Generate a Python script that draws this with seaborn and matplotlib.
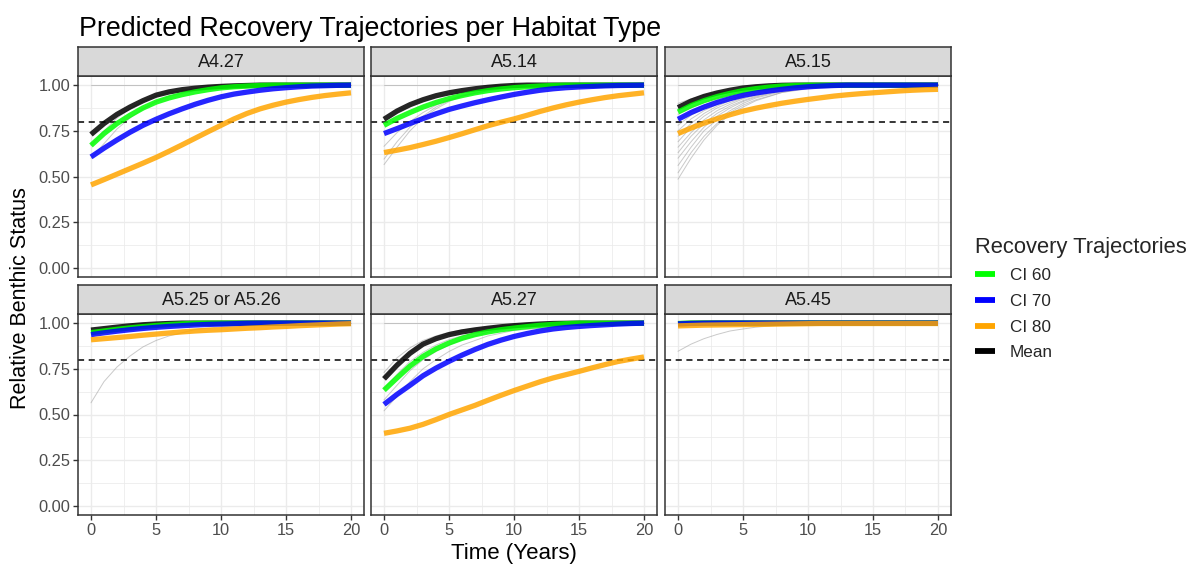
import numpy as np
import pandas as pd
import matplotlib
matplotlib.use("Agg")
import matplotlib.pyplot as plt
from matplotlib.lines import Line2D
from matplotlib.ticker import MultipleLocator
import seaborn as sns

# ---------------------------------------------------------------- data
HABITATS = ["A4.27", "A5.14", "A5.15", "A5.25 or A5.26", "A5.27", "A5.45"]
SERIES = ["CI 60", "CI 70", "CI 80", "Mean"]
DRAW_ORDER = ["Mean", "CI 60", "CI 70", "CI 80"]
COLORS = {"CI 60": "#00FF00", "CI 70": "#0000FF", "CI 80": "#FFA500", "Mean": "#000000"}

YEARS = list(range(0, 21))

A427 = {
    "Mean":  [.730, .790, .840, .880, .915, .945, .963, .975, .983, .989, .993, .996, .998, 1, 1, 1, 1, 1, 1, 1, 1],
    "CI 60": [.670, .735, .790, .835, .875, .907, .930, .948, .963, .975, .985, .991, .995, .998, 1, 1, 1, 1, 1, 1, 1],
    "CI 70": [.607, .655, .700, .742, .780, .813, .843, .870, .895, .917, .936, .951, .962, .972, .980, .986, .991, .995, .997, .999, 1],
    "CI 80": [.454, .483, .513, .543, .573, .604, .638, .673, .709, .745, .780, .815, .845, .870, .890, .907, .921, .933, .943, .951, .958],
}
A514 = {
    "Mean":  [.813, .858, .893, .920, .942, .958, .970, .980, .988, .994, .998, 1, 1, 1, 1, 1, 1, 1, 1, 1, 1],
    "CI 60": [.780, .818, .850, .880, .905, .926, .943, .958, .970, .979, .986, .991, .995, .998, 1, 1, 1, 1, 1, 1, 1],
    "CI 70": [.735, .762, .790, .817, .843, .867, .886, .904, .920, .935, .949, .961, .972, .980, .986, .990, .993, .996, .998, .999, 1],
    "CI 80": [.631, .644, .658, .675, .693, .713, .734, .756, .778, .797, .815, .835, .856, .875, .892, .907, .920, .932, .942, .950, .958],
}
A515 = {
    "Mean":  [.877, .912, .938, .957, .972, .984, .991, .996, .999, 1, 1, 1, 1, 1, 1, 1, 1, 1, 1, 1, 1],
    "CI 60": [.853, .888, .915, .937, .955, .970, .981, .989, .995, .998, 1, 1, 1, 1, 1, 1, 1, 1, 1, 1, 1],
    "CI 70": [.813, .850, .880, .905, .926, .944, .957, .968, .977, .985, .991, .995, .998, 1, 1, 1, 1, 1, 1, 1, 1],
    "CI 80": [.735, .765, .792, .816, .838, .858, .874, .888, .901, .912, .922, .931, .940, .947, .953, .958, .963, .968, .972, .975, .977],
}
A525 = {
    "Mean":  [.962, .970, .978, .985, .991, .995, .998, 1, 1, 1, 1, 1, 1, 1, 1, 1, 1, 1, 1, 1, 1],
    "CI 60": [.948, .957, .966, .974, .981, .987, .992, .996, .999, 1, 1, 1, 1, 1, 1, 1, 1, 1, 1, 1, 1],
    "CI 70": [.937, .947, .956, .964, .971, .977, .982, .986, .990, .993, .995, .997, .999, 1, 1, 1, 1, 1, 1, 1, 1],
    "CI 80": [.909, .915, .921, .927, .934, .940, .946, .952, .957, .961, .964, .968, .972, .975, .979, .982, .986, .989, .992, .995, .997],
}
A527 = {
    "Mean":  [.695, .770, .835, .885, .915, .937, .952, .963, .972, .980, .986, .991, .995, .998, .999, 1, 1, 1, 1, 1, 1],
    "CI 60": [.633, .700, .765, .818, .859, .891, .917, .937, .952, .964, .973, .981, .988, .993, .997, 1, 1, 1, 1, 1, 1],
    "CI 70": [.555, .610, .660, .712, .754, .791, .825, .856, .884, .907, .927, .943, .957, .968, .976, .982, .987, .991, .995, .998, 1],
    "CI 80": [.397, .410, .425, .446, .472, .500, .525, .550, .578, .605, .631, .655, .679, .700, .718, .736, .755, .773, .790, .803, .815],
}
A545 = {
    "Mean":  [.997, .999, 1, 1, 1, 1, 1, 1, 1, 1, 1, 1, 1, 1, 1, 1, 1, 1, 1, 1, 1],
    "CI 60": [.998, 1, 1, 1, 1, 1, 1, 1, 1, 1, 1, 1, 1, 1, 1, 1, 1, 1, 1, 1, 1],
    "CI 70": [.996, .998, .999, 1, 1, 1, 1, 1, 1, 1, 1, 1, 1, 1, 1, 1, 1, 1, 1, 1, 1],
    "CI 80": [.985, .987, .989, .990, .991, .992, .993, .994, .995, .996, .997, .998, .998, .998, .998, .998, .998, .998, .998, .998, .998],
}

# individual site trajectories (thin grey lines)
SITE_YEARS = [0, 1, 2, 3, 4, 5, 6, 8, 10, 15, 20]

SITES_A427 = [
    [1.000, 1.000, 1.000, 1.000, 1.000, 1.000, 1.000, 1.000, 1.000, 1.000, 1.000],
    [0.600, 0.680, 0.760, 0.820, 0.870, 0.910, 0.940, 0.970, 0.990, 1.000, 1.000],
    [0.670, 0.750, 0.820, 0.870, 0.910, 0.940, 0.960, 0.980, 0.990, 1.000, 1.000],
]
SITES_A514 = [
    [1.000, 1.000, 1.000, 1.000, 1.000, 1.000, 1.000, 1.000, 1.000, 1.000, 1.000],
    [0.565, 0.660, 0.750, 0.820, 0.870, 0.910, 0.940, 0.970, 0.990, 1.000, 1.000],
    [0.595, 0.690, 0.770, 0.830, 0.880, 0.915, 0.940, 0.970, 0.990, 1.000, 1.000],
    [0.665, 0.740, 0.800, 0.850, 0.890, 0.920, 0.945, 0.975, 0.990, 1.000, 1.000],
]
SITES_A515 = [
    [1.000, 1.000, 1.000, 1.000, 1.000, 1.000, 1.000, 1.000, 1.000, 1.000, 1.000],
    [0.485, 0.600, 0.700, 0.780, 0.840, 0.880, 0.915, 0.960, 0.980, 1.000, 1.000],
    [0.520, 0.630, 0.720, 0.790, 0.850, 0.890, 0.920, 0.960, 0.985, 1.000, 1.000],
    [0.560, 0.660, 0.750, 0.810, 0.860, 0.900, 0.930, 0.965, 0.985, 1.000, 1.000],
    [0.600, 0.690, 0.770, 0.830, 0.875, 0.910, 0.935, 0.970, 0.990, 1.000, 1.000],
    [0.630, 0.720, 0.790, 0.845, 0.885, 0.915, 0.940, 0.972, 0.990, 1.000, 1.000],
    [0.660, 0.740, 0.810, 0.860, 0.895, 0.925, 0.945, 0.975, 0.990, 1.000, 1.000],
    [0.690, 0.770, 0.830, 0.875, 0.905, 0.930, 0.950, 0.977, 0.990, 1.000, 1.000],
    [0.720, 0.790, 0.845, 0.885, 0.915, 0.940, 0.957, 0.980, 0.992, 1.000, 1.000],
    [0.750, 0.815, 0.860, 0.895, 0.925, 0.945, 0.962, 0.982, 0.993, 1.000, 1.000],
    [0.780, 0.835, 0.875, 0.910, 0.935, 0.953, 0.967, 0.985, 0.995, 1.000, 1.000],
    [0.810, 0.855, 0.890, 0.920, 0.942, 0.960, 0.972, 0.987, 0.995, 1.000, 1.000],
    [0.840, 0.875, 0.905, 0.930, 0.950, 0.965, 0.976, 0.990, 0.997, 1.000, 1.000],
    [0.870, 0.900, 0.925, 0.945, 0.960, 0.972, 0.981, 0.992, 0.998, 1.000, 1.000],
    [0.900, 0.925, 0.945, 0.960, 0.972, 0.980, 0.987, 0.995, 1.000, 1.000, 1.000],
]
SITES_A525 = [
    [1.000, 1.000, 1.000, 1.000, 1.000, 1.000, 1.000, 1.000, 1.000, 1.000, 1.000],
    [0.564, 0.680, 0.760, 0.820, 0.870, 0.905, 0.930, 0.965, 0.980, 0.995, 1.000],
]
SITES_A527 = [
    [1.000, 1.000, 1.000, 1.000, 1.000, 1.000, 1.000, 1.000, 1.000, 1.000, 1.000],
    [0.520, 0.600, 0.680, 0.750, 0.800, 0.845, 0.880, 0.930, 0.960, 0.990, 1.000],
    [0.580, 0.660, 0.740, 0.800, 0.845, 0.880, 0.910, 0.950, 0.975, 0.995, 1.000],
    [0.640, 0.720, 0.790, 0.840, 0.880, 0.910, 0.930, 0.960, 0.980, 0.997, 1.000],
    [0.700, 0.780, 0.840, 0.885, 0.915, 0.940, 0.955, 0.975, 0.988, 1.000, 1.000],
    [0.730, 0.810, 0.865, 0.905, 0.930, 0.950, 0.963, 0.980, 0.990, 1.000, 1.000],
]
SITES_A545 = [
    [0.846, 0.885, 0.915, 0.938, 0.957, 0.968, 0.978, 0.990, 0.998, 1.000, 1.000],
]

THRESHOLD = 0.8

CURVES = dict(zip(HABITATS, [A427, A514, A515, A525, A527, A545]))
SITES = dict(zip(HABITATS, [SITES_A427, SITES_A514, SITES_A515, SITES_A525, SITES_A527, SITES_A545]))

# ---------------------------------------------------------------- long tables
rows = []
for hab, curves in CURVES.items():
    for name, vals in curves.items():
        for t, v in zip(YEARS, vals):
            rows.append((hab, name, t, v))
curves_df = pd.DataFrame(rows, columns=["habitat", "series", "time", "status"])

rows = []
for hab, sites in SITES.items():
    for i, vals in enumerate(sites):
        for t, v in zip(SITE_YEARS, vals):
            rows.append((hab, i, t, v))
sites_df = pd.DataFrame(rows, columns=["habitat", "site", "time", "status"])

# ---------------------------------------------------------------- figure
sns.set_theme(style="white")
plt.rcParams["font.family"] = ["Liberation Sans", "DejaVu Sans"]

W, H = 1198, 564
fig = plt.figure(figsize=(W / 100, H / 100), dpi=100)
fig.patch.set_facecolor("white")

COLS = [(78, 364), (371, 657), (665, 951)]
ROWS = [(76, 277, 47), (314, 515, 285)]   # panel top, panel bottom, strip top

EDGE = "#333333"
GRID = "#EBEBEB"
TICKTXT = "#4D4D4D"


def frac_box(x0, x1, top, bottom):
    return [x0 / W, 1 - bottom / H, (x1 - x0) / W, (bottom - top) / H]


for idx, hab in enumerate(HABITATS):
    r, c = divmod(idx, 3)
    x0, x1 = COLS[c]
    ptop, pbot, stop = ROWS[r]
    ax = fig.add_axes(frac_box(x0, x1, ptop, pbot))

    # strip with the habitat name
    sax = fig.add_axes(frac_box(x0, x1, stop, ptop))
    sax.set_xticks([]); sax.set_yticks([])
    sax.set_facecolor("#D9D9D9")
    for sp in sax.spines.values():
        sp.set_color(EDGE); sp.set_linewidth(1.1)
    sax.text(0.5, 0.45, hab, ha="center", va="center", fontsize=13, color="#1A1A1A",
             transform=sax.transAxes)

    ax.set_xlim(-1, 21)
    ax.set_ylim(-0.05, 1.05)
    ax.xaxis.set_major_locator(MultipleLocator(5))
    ax.xaxis.set_minor_locator(MultipleLocator(2.5))
    ax.yaxis.set_major_locator(MultipleLocator(0.25))
    ax.yaxis.set_minor_locator(MultipleLocator(0.125))
    ax.grid(True, which="major", color=GRID, linewidth=1.0)
    ax.grid(True, which="minor", color=GRID, linewidth=0.55)
    ax.set_axisbelow(True)
    for sp in ax.spines.values():
        sp.set_color(EDGE); sp.set_linewidth(1.1); sp.set_zorder(10)

    sub_sites = sites_df[sites_df.habitat == hab]
    sns.lineplot(data=sub_sites, x="time", y="status", units="site", estimator=None,
                 color="#9E9E9E", alpha=0.55, linewidth=0.7, ax=ax, legend=False)

    ax.axhline(THRESHOLD, color="black", linestyle=(0, (4, 3)), linewidth=1.1, zorder=3)

    sub = curves_df[curves_df.habitat == hab]
    for name in DRAW_ORDER:
        sns.lineplot(data=sub[sub.series == name], x="time", y="status",
                     color=COLORS[name], alpha=0.85, linewidth=3.8, ax=ax,
                     legend=False, estimator=None, solid_capstyle="butt", zorder=4)

    ax.set_xlabel(""); ax.set_ylabel("")
    ax.tick_params(axis="both", which="major", length=3.5, width=1.0, color=EDGE,
                   labelsize=11.8, labelcolor=TICKTXT, pad=2, direction="out",
                   bottom=True, left=True)
    ax.tick_params(axis="both", which="minor", length=0)
    if c == 0:
        ax.set_yticklabels([f"{v:.2f}" for v in ax.get_yticks()])
    else:
        ax.tick_params(axis="y", labelleft=False, left=False)
    if r == 1:
        ax.set_xticklabels([f"{int(v)}" for v in ax.get_xticks()])
    else:
        ax.tick_params(axis="x", labelbottom=False, bottom=False)

# titles
fig.text(79 / W, 1 - 29 / H, "Predicted Recovery Trajectories per Habitat Type",
         fontsize=19.3, color="black", ha="left", va="center")
fig.text(514 / W, 1 - 553 / H, "Time (Years)", fontsize=16, ha="center", va="center",
         color="black")
fig.text(21 / W, 1 - 298 / H, "Relative Benthic Status", fontsize=15.5, ha="center",
         va="center", rotation=90, color="black")

# legend
handles = [Line2D([0], [0], color=COLORS[s], linewidth=4.2, solid_capstyle="butt") for s in SERIES]
leg = fig.legend(handles, SERIES, title="Recovery Trajectories", loc="upper left",
                 bbox_to_anchor=(968 / W, 1 - 230 / H), frameon=False, fontsize=12.3,
                 title_fontsize=15.8, handlelength=1.18, handletextpad=0.88,
                 labelspacing=0.62, alignment="left", borderaxespad=0)

fig.savefig("out.png", dpi=100, facecolor="white")
